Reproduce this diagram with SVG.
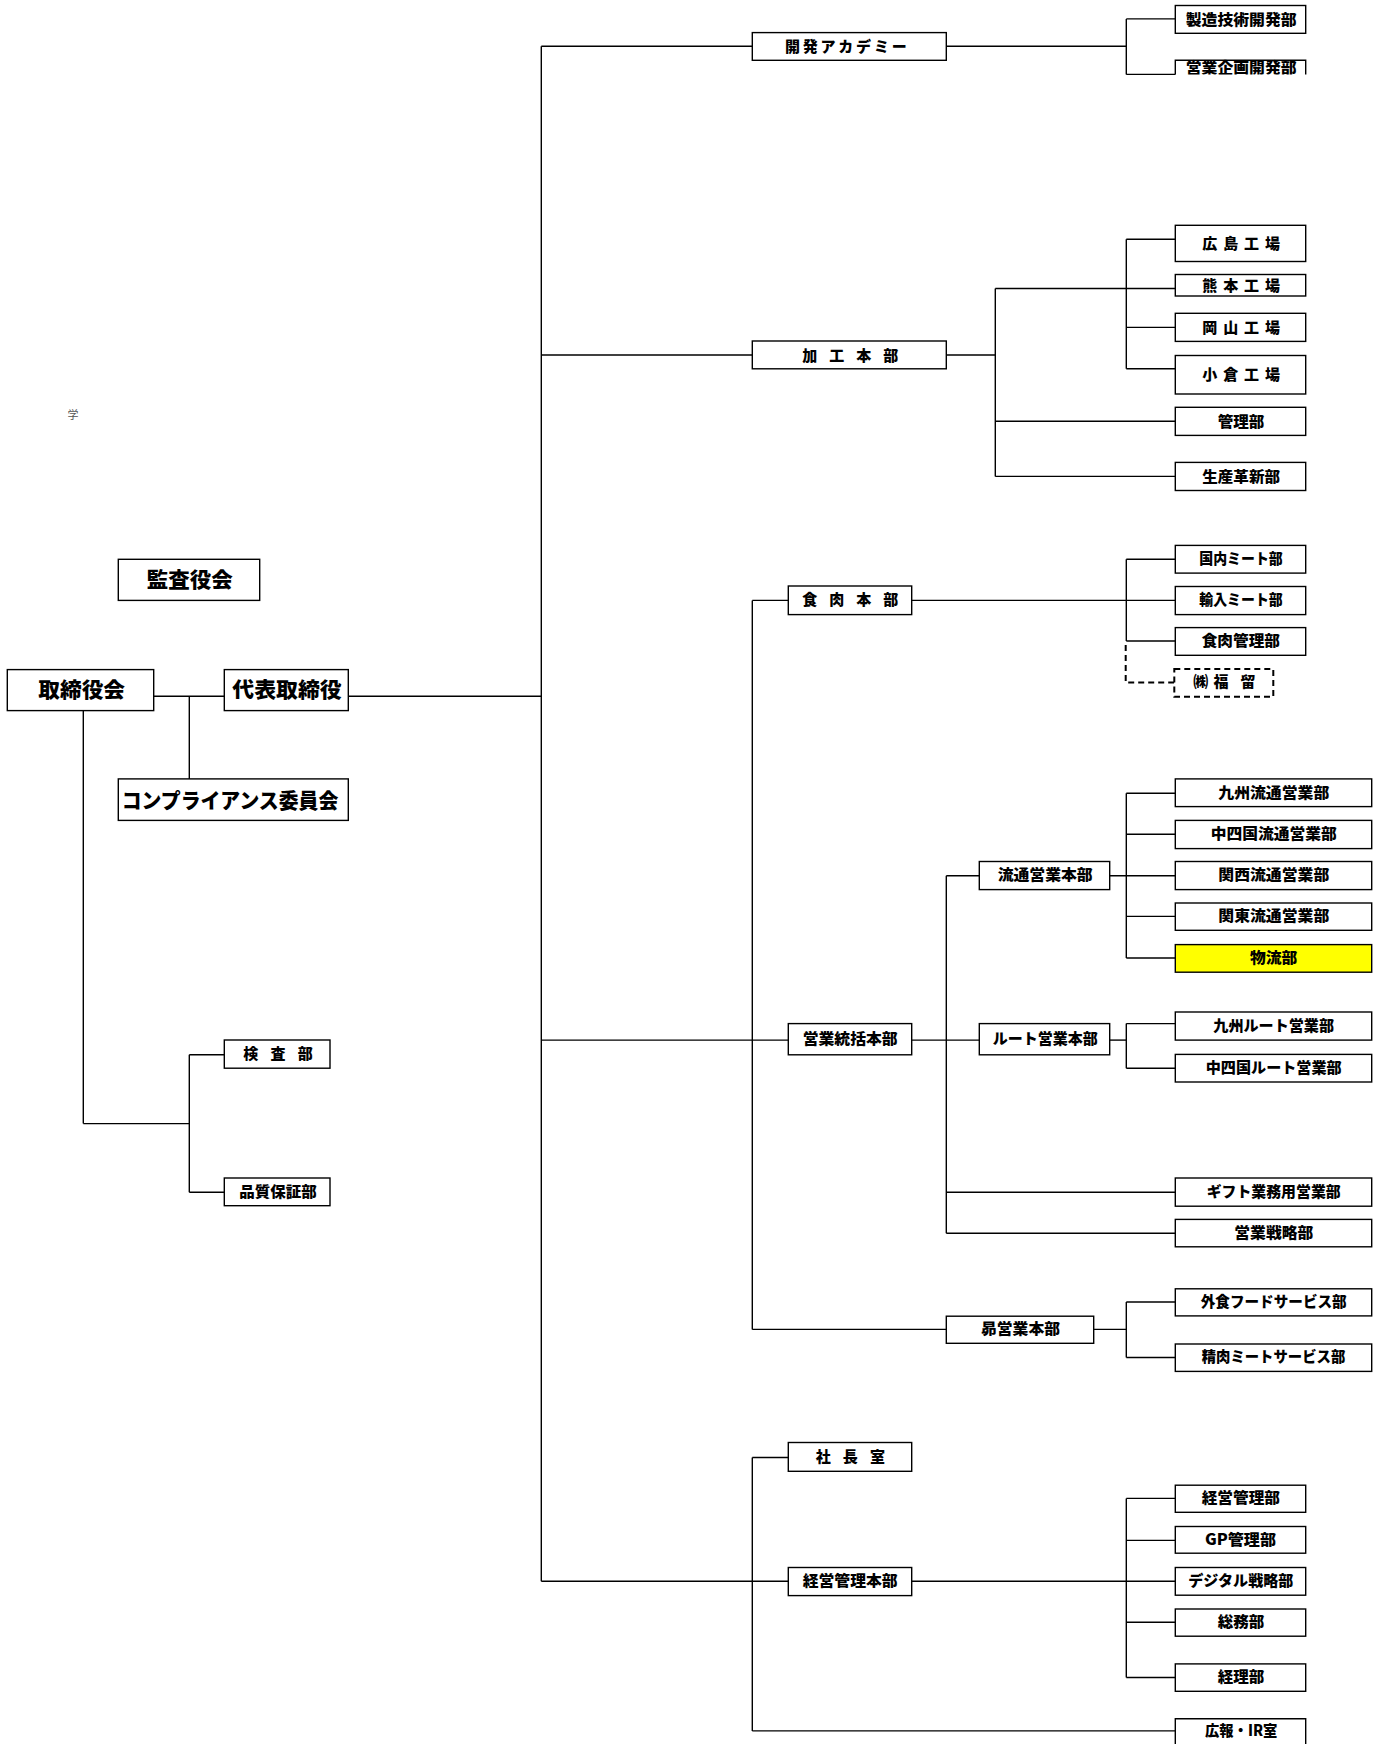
<svg xmlns="http://www.w3.org/2000/svg" width="1380" height="1744" viewBox="0 0 1380 1744">
<style>
.b{fill:#fff;stroke:#000;stroke-width:1.4}
.y{fill:#ffff00;stroke:#000;stroke-width:1.4}
.d{fill:#fff;stroke:#000;stroke-width:2;stroke-dasharray:6 4}
.o{fill:none;stroke:#000;stroke-width:1.4}
.t{font-family:"Noto Sans CJK JP","Liberation Sans",sans-serif;font-weight:900;font-size:15px;dominant-baseline:central;fill:#000;transform:translate(0px,-1.8px)}
.T{font-family:"Noto Sans CJK JP","Liberation Sans",sans-serif;font-weight:900;font-size:21px;dominant-baseline:central;fill:#000;transform:translate(0px,-1.8px)}
#conn line{stroke:#000;stroke-width:1.4}
#conn .dl{fill:none;stroke:#000;stroke-width:2;stroke-dasharray:6 4}
</style>
<defs>
<clipPath id="clipA"><rect x="1170" y="55" width="140" height="19.6"/></clipPath>
</defs>
<rect width="1380" height="1744" fill="#fff"/>
<text x="73" y="414" font-family="Noto Sans CJK JP, sans-serif" font-size="11" fill="#555" text-anchor="middle" dominant-baseline="central">学</text>

<g id="conn">
<line x1="541.3" y1="46.2" x2="541.3" y2="1581.3"/>
<line x1="541.3" y1="46.2" x2="752.3" y2="46.2"/>
<line x1="541.3" y1="355" x2="752.3" y2="355"/>
<line x1="348.3" y1="696.3" x2="541.3" y2="696.3"/>
<line x1="541.3" y1="1040.1" x2="788.3" y2="1040.1"/>
<line x1="541.3" y1="1581.3" x2="788.3" y2="1581.3"/>
<line x1="153.7" y1="696.3" x2="224.3" y2="696.3"/>
<line x1="189.3" y1="696.3" x2="189.3" y2="778.9"/>
<line x1="83.3" y1="710.6" x2="83.3" y2="1123.6"/>
<line x1="83.3" y1="1123.6" x2="189.3" y2="1123.6"/>
<line x1="189.3" y1="1054.8" x2="189.3" y2="1192.3"/>
<line x1="189.3" y1="1054.8" x2="224.3" y2="1054.8"/>
<line x1="189.3" y1="1192.3" x2="224.3" y2="1192.3"/>
<line x1="946.3" y1="46.2" x2="1126.3" y2="46.2"/>
<line x1="1126.3" y1="18.9" x2="1126.3" y2="74.4"/>
<line x1="1126.3" y1="18.9" x2="1175.3" y2="18.9"/>
<line x1="1126.3" y1="74.4" x2="1175.3" y2="74.4"/>
<line x1="946.3" y1="355" x2="995.3" y2="355"/>
<line x1="995.3" y1="288.5" x2="995.3" y2="476.4"/>
<line x1="995.3" y1="288.5" x2="1175.3" y2="288.5"/>
<line x1="995.3" y1="421.3" x2="1175.3" y2="421.3"/>
<line x1="995.3" y1="476.4" x2="1175.3" y2="476.4"/>
<line x1="1126.3" y1="239.3" x2="1126.3" y2="368.8"/>
<line x1="1126.3" y1="239.3" x2="1175.3" y2="239.3"/>
<line x1="1126.3" y1="327.4" x2="1175.3" y2="327.4"/>
<line x1="1126.3" y1="368.8" x2="1175.3" y2="368.8"/>
<line x1="911.7" y1="600.4" x2="1175.3" y2="600.4"/>
<line x1="1126.3" y1="559.3" x2="1126.3" y2="641"/>
<line x1="1126.3" y1="559.3" x2="1175.3" y2="559.3"/>
<line x1="1126.3" y1="641" x2="1175.3" y2="641"/>
<path class="dl" d="M1125.7,645 V682.5 H1174.3"/>
<line x1="752.3" y1="600.4" x2="752.3" y2="1329.4"/>
<line x1="752.3" y1="600.4" x2="788.3" y2="600.4"/>
<line x1="752.3" y1="1329.4" x2="946.3" y2="1329.4"/>
<line x1="911.7" y1="1040.1" x2="979.3" y2="1040.1"/>
<line x1="946.3" y1="875.8" x2="946.3" y2="1233.3"/>
<line x1="946.3" y1="875.8" x2="979.3" y2="875.8"/>
<line x1="946.3" y1="1192.3" x2="1175.3" y2="1192.3"/>
<line x1="946.3" y1="1233.3" x2="1175.3" y2="1233.3"/>
<line x1="1109.7" y1="875.8" x2="1175.3" y2="875.8"/>
<line x1="1126.3" y1="793.2" x2="1126.3" y2="958"/>
<line x1="1126.3" y1="793.2" x2="1175.3" y2="793.2"/>
<line x1="1126.3" y1="834.3" x2="1175.3" y2="834.3"/>
<line x1="1126.3" y1="916.4" x2="1175.3" y2="916.4"/>
<line x1="1126.3" y1="958" x2="1175.3" y2="958"/>
<line x1="1109.7" y1="1040.1" x2="1126.3" y2="1040.1"/>
<line x1="1126.3" y1="1023.6" x2="1126.3" y2="1068.2"/>
<line x1="1126.3" y1="1023.6" x2="1175.3" y2="1023.6"/>
<line x1="1126.3" y1="1068.2" x2="1175.3" y2="1068.2"/>
<line x1="1093.7" y1="1329.4" x2="1126.3" y2="1329.4"/>
<line x1="1126.3" y1="1302" x2="1126.3" y2="1357.5"/>
<line x1="1126.3" y1="1302" x2="1175.3" y2="1302"/>
<line x1="1126.3" y1="1357.5" x2="1175.3" y2="1357.5"/>
<line x1="752.3" y1="1457.5" x2="752.3" y2="1730.9"/>
<line x1="752.3" y1="1457.5" x2="788.3" y2="1457.5"/>
<line x1="752.3" y1="1730.9" x2="1175.3" y2="1730.9"/>
<line x1="911.7" y1="1581.3" x2="1175.3" y2="1581.3"/>
<line x1="1126.3" y1="1498.4" x2="1126.3" y2="1677.5"/>
<line x1="1126.3" y1="1498.4" x2="1175.3" y2="1498.4"/>
<line x1="1126.3" y1="1540.4" x2="1175.3" y2="1540.4"/>
<line x1="1126.3" y1="1622.3" x2="1175.3" y2="1622.3"/>
<line x1="1126.3" y1="1677.5" x2="1175.3" y2="1677.5"/>
</g>

<g id="kansayakukai"><rect class="b" x="118.3" y="559.3" width="141.4" height="41.1"/><text class="T" x="146.7" y="580.3" textLength="86" lengthAdjust="spacingAndGlyphs">監査役会</text></g>
<g id="torishimariyakukai"><rect class="b" x="7.3" y="669.6" width="146.4" height="41"/><text class="T" x="38.3" y="690" textLength="86.7" lengthAdjust="spacingAndGlyphs">取締役会</text></g>
<g id="daihyo"><rect class="b" x="224.3" y="669.6" width="124" height="41"/><text class="T" x="232.3" y="690" textLength="109.4" lengthAdjust="spacingAndGlyphs">代表取締役</text></g>
<g id="compliance"><rect class="b" x="118.3" y="778.9" width="230" height="41.5"/><text class="T" x="121.7" y="800.4" font-size="20" textLength="216.6" lengthAdjust="spacingAndGlyphs">コンプライアンス委員会</text></g>
<g id="kensa"><rect class="b" x="224.3" y="1040" width="105.7" height="28.2"/><text class="t" x="243.3" y="1054.8" textLength="69.4" lengthAdjust="spacing">検　査　部</text></g>
<g id="hinshitsu"><rect class="b" x="224.3" y="1178" width="105.7" height="27.7"/><text class="t" x="239.3" y="1192.3" textLength="77.4" lengthAdjust="spacingAndGlyphs">品質保証部</text></g>

<g id="kaihatsu"><rect class="b" x="752.3" y="32.6" width="194" height="27.7"/><text class="t" x="785" y="47" textLength="121.7" lengthAdjust="spacing">開 発 ア カ デ ミ ー</text></g>
<g id="kako"><rect class="b" x="752.3" y="341" width="194" height="27.8"/><text class="t" x="802.3" y="356" textLength="96" lengthAdjust="spacing">加　工　本　部</text></g>
<g id="shokuniku"><rect class="b" x="788.3" y="586" width="123.4" height="28.6"/><text class="t" x="802.3" y="600.4" textLength="96" lengthAdjust="spacing">食　肉　本　部</text></g>
<g id="eigyotokatsu"><rect class="b" x="788.3" y="1023.6" width="123.4" height="31.2"/><text class="t" x="802.7" y="1039.5" textLength="95" lengthAdjust="spacingAndGlyphs">営業統括本部</text></g>
<g id="shachoshitsu"><rect class="b" x="788.3" y="1442.5" width="123.4" height="28.8"/><text class="t" x="815.7" y="1457" textLength="69.3" lengthAdjust="spacing">社　長　室</text></g>
<g id="keieihonbu"><rect class="b" x="788.3" y="1567.5" width="123.4" height="28.1"/><text class="t" x="802.7" y="1581.3" textLength="95" lengthAdjust="spacingAndGlyphs">経営管理本部</text></g>
<g id="ryutsuhonbu"><rect class="b" x="979.3" y="861.5" width="130.4" height="28.1"/><text class="t" x="997.7" y="875.8" textLength="95" lengthAdjust="spacingAndGlyphs">流通営業本部</text></g>
<g id="routehonbu"><rect class="b" x="979.3" y="1023.6" width="130.4" height="31.2"/><text class="t" x="992.7" y="1039.5" textLength="105" lengthAdjust="spacingAndGlyphs">ルート営業本部</text></g>
<g id="subaru"><rect class="b" x="946.3" y="1316.2" width="147.4" height="27.1"/><text class="t" x="981" y="1329.6" textLength="79" lengthAdjust="spacingAndGlyphs">昴営業本部</text></g>

<g id="seizogijutsu"><rect class="b" x="1175.3" y="5.5" width="130.4" height="27.8"/><text class="t" x="1185.7" y="20.4" textLength="111" lengthAdjust="spacingAndGlyphs">製造技術開発部</text></g>
<g id="eigyokikaku"><path class="o" d="M1175.3,74.4 V60.3 H1305.7 V74.4"/><g clip-path="url(#clipA)"><text class="t" x="1185.7" y="68.5" textLength="111" lengthAdjust="spacingAndGlyphs">営業企画開発部</text></g></g>
<g id="hiroshima"><rect class="b" x="1175.3" y="225.3" width="130.4" height="36.2"/><text class="t" x="1202.3" y="244.4" textLength="77.7" lengthAdjust="spacing">広 島 工 場</text></g>
<g id="kumamoto"><rect class="b" x="1175.3" y="274.5" width="130.4" height="21.5"/><text class="t" x="1202.3" y="286" textLength="77.7" lengthAdjust="spacing">熊 本 工 場</text></g>
<g id="okayama"><rect class="b" x="1175.3" y="313.3" width="130.4" height="28.1"/><text class="t" x="1202.3" y="328" textLength="77.7" lengthAdjust="spacing">岡 山 工 場</text></g>
<g id="kokura"><rect class="b" x="1175.3" y="355.5" width="130.4" height="38.5"/><text class="t" x="1202.3" y="375" textLength="77.7" lengthAdjust="spacing">小 倉 工 場</text></g>
<g id="kanri"><rect class="b" x="1175.3" y="407.3" width="130.4" height="28.1"/><text class="t" x="1217.7" y="422" textLength="46.6" lengthAdjust="spacingAndGlyphs">管理部</text></g>
<g id="seisankakushin"><rect class="b" x="1175.3" y="462.4" width="130.4" height="28.1"/><text class="t" x="1202.3" y="477.8" textLength="77.7" lengthAdjust="spacingAndGlyphs">生産革新部</text></g>
<g id="kokunai"><rect class="b" x="1175.3" y="545.4" width="130.4" height="27.7"/><text class="t" x="1199.3" y="559.3" textLength="83.4" lengthAdjust="spacingAndGlyphs">国内ミート部</text></g>
<g id="yunyu"><rect class="b" x="1175.3" y="586.5" width="130.4" height="28.1"/><text class="t" x="1199.3" y="600.4" textLength="83.4" lengthAdjust="spacingAndGlyphs">輸入ミート部</text></g>
<g id="shokunikukanri"><rect class="b" x="1175.3" y="627.6" width="130.4" height="27.7"/><text class="t" x="1201.7" y="641" textLength="78.3" lengthAdjust="spacingAndGlyphs">食肉管理部</text></g>
<g id="fukudome"><rect class="d" x="1174.3" y="669.1" width="99" height="27.7"/><text class="t" x="1193.3 1213.5 1228 1240.5" y="682.8">㈱福　留</text></g>

<g id="kyushuryutsu"><rect class="b" x="1175.3" y="778.9" width="196.4" height="27.7"/><text class="t" x="1218.3" y="793.2" textLength="111" lengthAdjust="spacingAndGlyphs">九州流通営業部</text></g>
<g id="chushikokuryutsu"><rect class="b" x="1175.3" y="820.4" width="196.4" height="28.2"/><text class="t" x="1210.7" y="834.3" textLength="126" lengthAdjust="spacingAndGlyphs">中四国流通営業部</text></g>
<g id="kansairyutsu"><rect class="b" x="1175.3" y="861.5" width="196.4" height="28.1"/><text class="t" x="1218.3" y="875.8" textLength="111" lengthAdjust="spacingAndGlyphs">関西流通営業部</text></g>
<g id="kantoryutsu"><rect class="b" x="1175.3" y="903" width="196.4" height="27.3"/><text class="t" x="1218.3" y="916.4" textLength="111" lengthAdjust="spacingAndGlyphs">関東流通営業部</text></g>
<g id="butsuryu"><rect class="y" x="1175.3" y="944.6" width="196.4" height="27.6"/><text class="t" x="1250" y="958.4" textLength="47.3" lengthAdjust="spacingAndGlyphs">物流部</text></g>
<g id="kyushuroute"><rect class="b" x="1175.3" y="1012" width="196.4" height="28.1"/><text class="t" x="1213.3" y="1026" textLength="120.7" lengthAdjust="spacingAndGlyphs">九州ルート営業部</text></g>
<g id="chushikokuroute"><rect class="b" x="1175.3" y="1054.4" width="196.4" height="27.6"/><text class="t" x="1205.7" y="1068.2" textLength="136" lengthAdjust="spacingAndGlyphs">中四国ルート営業部</text></g>
<g id="gift"><rect class="b" x="1175.3" y="1178" width="196.4" height="28.2"/><text class="t" x="1206.7" y="1192.3" textLength="134" lengthAdjust="spacingAndGlyphs">ギフト業務用営業部</text></g>
<g id="eigyosenryaku"><rect class="b" x="1175.3" y="1219.4" width="196.4" height="27.4"/><text class="t" x="1234.3" y="1233.3" textLength="79" lengthAdjust="spacingAndGlyphs">営業戦略部</text></g>
<g id="gaishoku"><rect class="b" x="1175.3" y="1288.8" width="196.4" height="27.1"/><text class="t" x="1200.7" y="1302.3" textLength="146" lengthAdjust="spacingAndGlyphs">外食フードサービス部</text></g>
<g id="seiniku"><rect class="b" x="1175.3" y="1344" width="196.4" height="27.4"/><text class="t" x="1201.7" y="1357.7" textLength="143.6" lengthAdjust="spacingAndGlyphs">精肉ミートサービス部</text></g>

<g id="keieikanri"><rect class="b" x="1175.3" y="1485.2" width="130.4" height="27.1"/><text class="t" x="1201.7" y="1498.8" textLength="78.3" lengthAdjust="spacingAndGlyphs">経営管理部</text></g>
<g id="gpkanri"><rect class="b" x="1175.3" y="1526.5" width="130.4" height="26.7"/><text class="t" x="1205" y="1540" textLength="71" lengthAdjust="spacingAndGlyphs">GP管理部</text></g>
<g id="digital"><rect class="b" x="1175.3" y="1567.5" width="130.4" height="27.7"/><text class="t" x="1188.3" y="1581.3" textLength="105" lengthAdjust="spacingAndGlyphs">デジタル戦略部</text></g>
<g id="somu"><rect class="b" x="1175.3" y="1609" width="130.4" height="27.2"/><text class="t" x="1217.7" y="1622.6" textLength="46.6" lengthAdjust="spacingAndGlyphs">総務部</text></g>
<g id="keiri"><rect class="b" x="1175.3" y="1663.9" width="130.4" height="27.4"/><text class="t" x="1217.7" y="1677.6" textLength="46.6" lengthAdjust="spacingAndGlyphs">経理部</text></g>
<g id="koho"><path class="o" d="M1175.3,1746 V1718.7 H1305.7 V1746"/><text class="t" x="1205" y="1731" textLength="72.3" lengthAdjust="spacingAndGlyphs">広報・IR室</text></g>
</svg>
